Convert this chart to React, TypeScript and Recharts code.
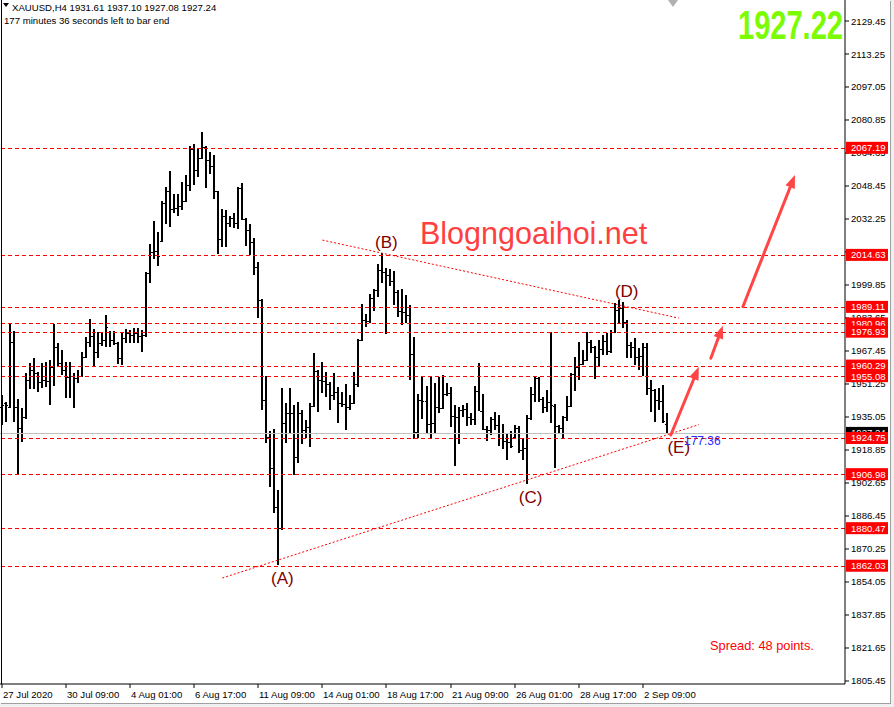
import React from 'react';
import { ComposedChart, Bar, XAxis, YAxis, ReferenceLine, ReferenceDot } from 'recharts';

// XAUUSD H4 bars, 27 Jul 2020 -> 3 Sep 2020
const opens = [
  1939.8, 1941.8, 1940.1, 1971.7, 1939.8, 1929.5, 1934.9, 1953.2, 1958.1, 1956.5,
  1952.4, 1953.2, 1952.8, 1959.7, 1969.6, 1961.4, 1958.1, 1954.8, 1955.2, 1954.0,
  1955.2, 1964.7, 1972.0, 1974.9, 1967.1, 1971.2, 1972.9, 1977.0, 1972.9, 1971.2,
  1963.9, 1973.7, 1976.1, 1975.3, 1976.1, 1974.8, 1975.3, 2005.6, 2016.2, 2016.5,
  2021.4, 2039.9, 2046.1, 2037.0, 2037.8, 2038.6, 2040.9, 2048.9, 2066.5, 2056.3,
  2062.0, 2067.7, 2061.2, 2058.3, 2046.0, 2022.4, 2033.7, 2030.1, 2032.6, 2030.1,
  2047.3, 2032.1, 2026.8, 2021.1, 2008.8, 1992.5, 1943.4, 1925.4, 1910.0, 1891.0,
  1880.6, 1932.1, 1937.2, 1937.0, 1915.4, 1936.9, 1928.7, 1930.1, 1940.4, 1957.6,
  1953.2, 1952.7, 1951.2, 1945.8, 1947.3, 1941.9, 1941.5, 1939.9, 1942.0, 1951.2,
  1972.8, 1982.7, 1982.2, 1993.5, 1997.5, 2007.2, 2006.4, 2004.7, 2001.8, 1996.6,
  1987.1, 1986.8, 1985.1, 1965.8, 1927.8, 1943.4, 1942.9, 1931.6, 1931.9, 1940.1,
  1939.6, 1946.3, 1947.0, 1935.7, 1935.2, 1938.5, 1939.0, 1935.2, 1933.9, 1947.9,
  1938.1, 1929.0, 1928.6, 1934.1, 1931.1, 1924.6, 1923.4, 1923.0, 1925.0, 1929.5,
  1918.9, 1919.7, 1934.7, 1946.3, 1954.0, 1943.9, 1939.8, 1942.6, 1940.5, 1930.6,
  1929.5, 1935.2, 1940.4, 1956.1, 1959.7, 1961.0, 1963.0, 1972.0, 1969.6, 1964.4,
  1968.4, 1972.5, 1967.4, 1976.9, 1987.6, 1988.4, 1981.8, 1970.4, 1969.6, 1964.7,
  1965.0, 1969.6, 1949.1, 1948.3, 1943.4, 1942.9, 1931.61,
];
const highs = [
  1945.8, 1942.3, 1980.7, 1977.3, 1943.9, 1939.3, 1956.8, 1961.4, 1963.9, 1957.3,
  1961.4, 1961.9, 1963.0, 1980.7, 1971.5, 1967.9, 1962.2, 1962.2, 1956.5, 1958.1,
  1967.1, 1974.5, 1983.2, 1978.1, 1976.9, 1976.1, 1985.1, 1977.3, 1977.5, 1972.0,
  1976.9, 1978.1, 1977.8, 1978.6, 1978.6, 1977.8, 2006.4, 2020.0, 2031.4, 2026.0,
  2041.1, 2048.1, 2055.8, 2044.5, 2044.5, 2050.6, 2053.8, 2068.2, 2069.1, 2066.6,
  2074.8, 2068.1, 2065.3, 2063.7, 2046.1, 2037.2, 2036.7, 2033.9, 2035.0, 2048.1,
  2050.1, 2032.6, 2029.8, 2023.1, 2011.0, 1993.0, 1955.2, 1928.2, 1929.2, 1899.2,
  1949.3, 1941.9, 1949.3, 1940.9, 1942.6, 1938.5, 1933.6, 1941.9, 1966.5, 1958.1,
  1962.0, 1957.1, 1952.2, 1956.6, 1949.8, 1947.3, 1951.2, 1945.8, 1957.1, 1973.3,
  1990.5, 1985.6, 1995.4, 1997.9, 2010.2, 2015.4, 2008.0, 2007.5, 2006.7, 1997.4,
  1997.9, 1994.9, 1990.0, 1974.5, 1946.3, 1954.8, 1950.4, 1954.8, 1951.6, 1954.8,
  1955.7, 1951.6, 1949.9, 1940.9, 1940.1, 1940.9, 1941.8, 1936.9, 1950.4, 1961.7,
  1946.3, 1930.6, 1935.2, 1937.3, 1936.0, 1931.4, 1927.0, 1928.2, 1931.1, 1930.6,
  1924.6, 1936.0, 1949.9, 1954.8, 1954.8, 1945.0, 1948.3, 1976.6, 1941.2, 1931.0,
  1935.7, 1945.4, 1956.5, 1964.6, 1971.9, 1967.9, 1976.9, 1972.9, 1970.0, 1972.9,
  1975.3, 1976.1, 1977.8, 1990.9, 1992.5, 1991.6, 1982.7, 1972.0, 1973.7, 1968.8,
  1971.2, 1971.2, 1953.2, 1948.8, 1949.1, 1950.7, 1937.10,
];
const lows = [
  1931.1, 1932.7, 1939.3, 1932.7, 1906.9, 1922.4, 1934.4, 1948.6, 1948.6, 1947.5,
  1949.1, 1949.6, 1940.9, 1950.4, 1959.7, 1955.7, 1944.5, 1944.5, 1939.3, 1951.9,
  1954.6, 1964.2, 1969.6, 1959.2, 1963.9, 1969.6, 1969.6, 1969.6, 1970.4, 1961.4,
  1960.9, 1971.2, 1971.2, 1971.2, 1971.2, 1967.1, 1974.6, 2000.7, 2012.9, 2009.3,
  2021.1, 2029.8, 2028.5, 2035.0, 2033.9, 2036.7, 2040.4, 2046.1, 2048.9, 2053.0,
  2061.5, 2047.6, 2054.7, 2041.9, 2015.1, 2018.6, 2018.6, 2028.5, 2027.7, 2027.7,
  2031.8, 2019.0, 2014.6, 2004.8, 1983.5, 1938.5, 1922.4, 1900.8, 1887.9, 1862.4,
  1879.8, 1922.3, 1927.2, 1906.6, 1912.6, 1921.8, 1924.7, 1920.3, 1939.9, 1937.5,
  1946.8, 1944.9, 1938.5, 1943.4, 1932.1, 1939.9, 1928.7, 1938.5, 1941.5, 1949.8,
  1972.3, 1979.2, 1981.2, 1987.1, 1993.9, 2000.7, 1975.6, 1999.0, 1990.0, 1984.0,
  1980.2, 1981.0, 1953.2, 1924.6, 1924.6, 1934.4, 1927.0, 1924.6, 1927.0, 1936.9,
  1939.0, 1945.0, 1930.3, 1911.0, 1921.8, 1935.2, 1930.3, 1931.1, 1931.1, 1938.0,
  1928.7, 1923.4, 1926.2, 1928.7, 1920.8, 1919.2, 1913.9, 1919.7, 1924.3, 1917.5,
  1913.9, 1902.2, 1933.6, 1942.6, 1942.6, 1937.2, 1937.6, 1932.0, 1909.9, 1927.3,
  1924.6, 1933.1, 1940.0, 1947.9, 1953.2, 1960.6, 1962.5, 1966.3, 1954.0, 1959.7,
  1965.5, 1965.5, 1966.3, 1976.4, 1981.0, 1978.6, 1963.9, 1963.9, 1960.6, 1958.1,
  1954.8, 1945.8, 1937.6, 1932.7, 1938.5, 1932.0, 1927.08,
];
const closes = [
  1940.9, 1940.9, 1971.7, 1939.8, 1929.5, 1934.9, 1953.2, 1958.1, 1956.5, 1952.4,
  1953.2, 1952.8, 1959.7, 1969.6, 1961.4, 1958.1, 1954.8, 1955.2, 1954.0, 1955.2,
  1964.7, 1972.0, 1974.9, 1967.1, 1971.2, 1972.9, 1979.4, 1972.9, 1971.2, 1963.9,
  1973.7, 1976.1, 1975.3, 1976.1, 1974.8, 1975.3, 2005.6, 2016.2, 2016.5, 2014.2,
  2039.9, 2046.1, 2037.0, 2037.8, 2038.6, 2040.9, 2048.9, 2066.5, 2056.3, 2062.0,
  2067.7, 2061.2, 2058.3, 2046.0, 2022.4, 2033.7, 2030.1, 2032.6, 2030.1, 2047.3,
  2032.1, 2026.8, 2021.1, 2008.8, 1992.5, 1943.4, 1925.4, 1910.0, 1891.0, 1880.6,
  1932.1, 1937.2, 1937.0, 1915.4, 1936.9, 1928.7, 1930.1, 1940.4, 1957.6, 1953.2,
  1952.7, 1951.2, 1945.8, 1947.3, 1941.9, 1941.5, 1939.9, 1942.0, 1951.2, 1972.8,
  1982.7, 1982.2, 1993.5, 1997.5, 2007.2, 2006.4, 2004.7, 2001.8, 1996.6, 1987.1,
  1986.8, 1985.1, 1965.8, 1927.8, 1943.4, 1942.9, 1931.6, 1931.9, 1940.1, 1939.6,
  1946.3, 1947.0, 1935.7, 1935.2, 1938.5, 1939.0, 1935.2, 1933.9, 1947.9, 1938.1,
  1929.0, 1928.6, 1934.1, 1931.1, 1924.6, 1923.4, 1923.0, 1920.8, 1929.5, 1918.9,
  1919.7, 1934.7, 1946.3, 1954.0, 1943.9, 1939.8, 1942.6, 1941.0, 1930.6, 1929.5,
  1935.2, 1940.4, 1956.1, 1959.7, 1961.0, 1963.0, 1972.0, 1969.6, 1964.4, 1968.4,
  1972.5, 1967.4, 1976.9, 1987.6, 1988.4, 1981.8, 1970.4, 1969.6, 1964.7, 1965.0,
  1969.6, 1949.1, 1948.3, 1943.4, 1942.9, 1933.0, 1927.24,
];

// time labels, one every 16 bars
const timeLabels = [
  '27 Jul 2020', '30 Jul 09:00', '4 Aug 01:00', '6 Aug 17:00', '11 Aug 09:00', '14 Aug 01:00',
  '18 Aug 17:00', '21 Aug 09:00', '26 Aug 01:00', '28 Aug 17:00', '2 Sep 09:00',
];
const priceTicks = [
  2129.45, 2113.25, 2097.05, 2080.85, 2064.65, 2048.45, 2032.25, 2016.05, 1999.85, 1983.65, 1967.45,
  1951.25, 1935.05, 1918.85, 1902.65, 1886.45, 1870.25, 1854.05, 1837.85, 1821.65, 1805.45,
];
const levels = [2067.19, 2014.63, 1989.11, 1980.96, 1976.93, 1960.29, 1955.08, 1924.75, 1906.98, 1880.47, 1862.03];
const lastPrice = 1927.24;

const waveNames = ['(A)', '(B)', '(C)', '(D)', '(E)'];
const waveBars = [70, 96, 132, 156, 169];
const wavePrices = [1856.0, 2021.0, 1895.8, 1996.7, 1920.5];

// [fromBar, fromPrice, toBar, toPrice]
const trendLines = [
  [55, 1856.0, 174, 1931.3],
  [80, 2021.9, 169, 1983.6],
];
const arrows = [
  [167, 1926.2, 174, 1959.7],
  [177, 1963.9, 180, 1979.9],
  [185, 1989.2, 198, 2053.8],
];

const SHIFT_BARS = 44; // empty space right of the last bar
const PRICE_MIN = 1803.97;
const PRICE_MAX = 2139.76;
const FONT = '"Liberation Sans", Arial, sans-serif';

const rows = Array.from({ length: opens.length + SHIFT_BARS }, (_, i) =>
  i < opens.length
    ? { i, o: opens[i], h: highs[i], l: lows[i], c: closes[i] }
    : { i, o: null, h: null, l: null, c: null }
);
const timeTickIdx = timeLabels.map((_, k) => k * 16);

function OhlcBar(props: any) {
  const { x, y, height, payload } = props;
  if (payload == null || payload.h == null) return null;
  const top = height < 0 ? y + height : y;
  const h = Math.abs(height);
  const range = payload.h - payload.l || 1;
  const yOpen = top + ((payload.h - payload.o) / range) * h;
  const yClose = top + ((payload.h - payload.c) / range) * h;
  const bx = Math.round(x);
  return (
    <g fill="#000" shapeRendering="crispEdges">
      <rect x={bx} y={Math.round(top)} width={2} height={Math.max(Math.round(h), 1)} />
      <rect x={bx - 1} y={Math.round(yOpen)} width={1} height={1} />
      <rect x={bx + 2} y={Math.round(yClose)} width={1} height={1} />
    </g>
  );
}

// horizontal lines snapped to whole pixels so they stay crisp
const crispLine = (color: string, dash?: string) => (p: any) => {
  const yy = Math.round(p.y1) + 0.5;
  return (
    <line x1={p.x1} x2={p.x2} y1={yy} y2={yy} stroke={color} strokeDasharray={dash} shapeRendering="crispEdges" />
  );
};

function PriceTick(props: any) {
  const { y, payload } = props;
  const v = payload.value;
  const txt = v.toFixed(2);
  if (levels.includes(v) || v === lastPrice) {
    return (
      <g>
        <rect x={846} y={y - 6} width={42} height={12} fill={v === lastPrice ? '#000' : '#ff0000'} />
        <text x={851} y={y + 3.5} fill="#fff" fontSize={9.6} fontFamily={FONT}>{txt}</text>
      </g>
    );
  }
  return (
    <g>
      <line x1={845} x2={849} y1={y} y2={y} stroke="#000" />
      <text x={851} y={y + 3.5} fill="#000" fontSize={9.6} fontFamily={FONT}>{txt}</text>
    </g>
  );
}

function TimeTick(props: any) {
  const { x, payload } = props;
  const label = timeLabels[payload.value / 16];
  const tx = Math.round(x);
  return (
    <g>
      <line x1={tx} x2={tx} y1={684} y2={688} stroke="#000" />
      <text x={tx + 1} y={698} fill="#000" fontSize={9.6} fontFamily={FONT}>{label}</text>
    </g>
  );
}

function ArrowShape(props: any) {
  const { x1, y1, x2, y2 } = props;
  const ang = Math.atan2(y2 - y1, x2 - x1);
  const len = 13;
  const w = 5;
  const bx = x2 - len * Math.cos(ang);
  const by = y2 - len * Math.sin(ang);
  const p1 = `${bx + w * Math.sin(ang)},${by - w * Math.cos(ang)}`;
  const p2 = `${bx - w * Math.sin(ang)},${by + w * Math.cos(ang)}`;
  return (
    <g>
      <line x1={x1} y1={y1} x2={bx} y2={by} stroke="#ff4545" strokeWidth={3} strokeLinecap="round" />
      <polygon points={`${x2},${y2} ${p1} ${p2}`} fill="#ff4545" />
    </g>
  );
}

export default function App() {
  return (
    <div style={{ position: 'absolute', left: 0, top: 0, width: 894, height: 707, background: '#f0f0f0' }}>
      <div style={{ position: 'absolute', left: 0, top: 0, width: 890, height: 703, background: '#fff', boxShadow: '1px 1px 0 #a0a0a0' }}>
        <ComposedChart width={890} height={703} data={rows} margin={{ top: 0, right: 0, bottom: 0, left: 0 }}>
          <XAxis
            dataKey="i"
            ticks={timeTickIdx}
            interval={0}
            height={19}
            tickLine={false}
            axisLine={{ stroke: '#000' }}
            tick={<TimeTick />}
          />
          <YAxis
            orientation="right"
            width={45}
            type="number"
            domain={[PRICE_MIN, PRICE_MAX]}
            allowDataOverflow
            ticks={[...priceTicks, lastPrice, ...levels]}
            interval={0}
            tickLine={false}
            axisLine={{ stroke: '#000' }}
            tick={<PriceTick />}
          />
          <ReferenceLine y={lastPrice} shape={crispLine('#c0c0c0')} />
          {levels.map((v) => (
            <ReferenceLine key={v} y={v} shape={crispLine('#ff0000', '4 3')} />
          ))}
          <Bar
            dataKey={(d: any) => (d.h == null ? null : [d.l, d.h])}
            barSize={2}
            shape={<OhlcBar />}
            isAnimationActive={false}
          />
          {trendLines.map((t, k) => (
            <ReferenceLine
              key={'t' + k}
              segment={[{ x: t[0], y: t[1] }, { x: t[2], y: t[3] }]}
              stroke="#ff0000"
              strokeDasharray="2 2"
            />
          ))}
          {arrows.map((a, k) => (
            <ReferenceLine
              key={'a' + k}
              segment={[{ x: a[0], y: a[1] }, { x: a[2], y: a[3] }]}
              shape={ArrowShape}
            />
          ))}
          {waveNames.map((name, k) => (
            <ReferenceDot
              key={name}
              x={waveBars[k]}
              y={wavePrices[k]}
              r={0}
              shape={(p: any) => (
                <text x={p.cx} y={p.cy + 6} textAnchor="middle" fill="#800000" fontSize={17} fontFamily={FONT}>
                  {name}
                </text>
              )}
            />
          ))}
        </ComposedChart>

        {/* chart window frame and overlays */}
        <div style={{ position: 'absolute', left: 1, top: 0, width: 1, height: 684, background: '#000' }} />
        <svg style={{ position: 'absolute', left: 0, top: 0 }} width={890} height={703}>
          <polygon points="3,3 9,3 6,7" fill="#000" />
          <polygon points="668,0 678,0 673,7" fill="#b0b0b0" />
          <text x={12} y={11} fontSize={9.6} fontFamily={FONT} fill="#000">XAUUSD,H4  1931.61 1937.10 1927.08 1927.24</text>
          <text x={4} y={24} fontSize={9.6} fontFamily={FONT} fill="#000">177 minutes 36 seconds left to bar end</text>
          <text x={738} y={39} fontSize={40} fontWeight="bold" fontFamily={FONT} fill="#7cfc00" textLength={105} lengthAdjust="spacingAndGlyphs">1927.22</text>
          <text x={420} y={244} fontSize={30.5} fontFamily={FONT} fill="#ff4040">Blogngoaihoi.net</text>
          <text x={684} y={445} fontSize={12} fontFamily={FONT} fill="#2a2aff">177:36</text>
          <text x={710} y={650} fontSize={12.8} fontFamily={FONT} fill="#ff0000">Spread: 48 points.</text>
        </svg>
      </div>
    </div>
  );
}
